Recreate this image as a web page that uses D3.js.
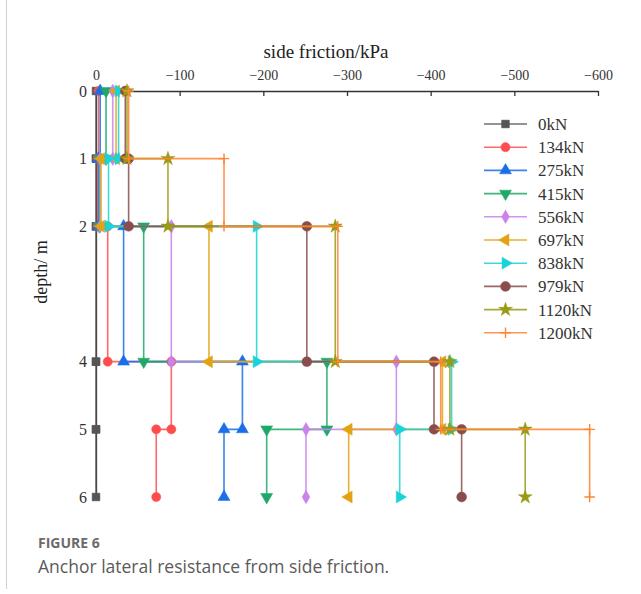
<!DOCTYPE html>
<html>
<head>
<meta charset="utf-8">
<script src="https://cdn.jsdelivr.net/npm/d3@7"></script>
<style>
  body { margin: 0; background: #fff; }
  svg { display: block; }
</style>
</head>
<body>
<div id="container"></div>
<script>
/* DATA */
const depths = [0, 1, 2, 4, 5, 6];           // layer boundaries, m
const loads = ["0kN", "134kN", "275kN", "415kN", "556kN", "697kN", "838kN", "979kN", "1120kN", "1200kN"];
// side friction per layer (0-1, 1-2, 2-4, 4-5, 5-6), kPa
const f0 = [0, 0, 0, 0, 0];
const f134 = [-3, -2, -14, -90, -72];
const f275 = [-5, -3, -33, -175, -153];
const f415 = [-12, -4, -57, -276, -204];
const f556 = [-20, -5, -90, -359, -251];
const f697 = [-24, -6, -135, -414, -302];
const f838 = [-27, -15, -192, -425, -363];
const f979 = [-35, -39, -252, -404, -437];
const f1120 = [-37, -86, -286, -423, -513];
const f1200 = [-39, -153, -289, -412, -590];
const xTicks = [0, -100, -200, -300, -400, -500, -600];
const yTicks = [0, 1, 2, 4, 5, 6];

const friction = [f0, f134, f275, f415, f556, f697, f838, f979, f1120, f1200];
const colors = ["#555555", "#ff4d4d", "#1a6fe8", "#1fa86a", "#c983ea", "#e3a214", "#18d4d8", "#8a4c4c", "#9a9a14", "#ff8533"];

/* CONSTANTS */
const width = 641, height = 594;

const svg = d3.select("#container").append("svg")
  .attr("width", width)
  .attr("height", height)

svg.append("rect").attr("width", width).attr("height", height).attr("fill", "#fff")
// frame edge on the left
svg.append("line").attr("x1", 6.5).attr("x2", 6.5).attr("y1", 0).attr("y2", 589)
  .attr("stroke", "#d0d0d0").attr("stroke-width", 1)

/* SCALES */
const xScale = d3.scaleLinear().domain([0, -600]).range([96, 598])
const yScale = d3.scaleLinear().domain([0, 6]).range([91, 497])

/* AXES */
const xAxis = svg.append("g")
  .attr("transform", `translate(0,${yScale(0)})`)
  .call(d3.axisTop(xScale).tickValues(xTicks).tickSizeInner(-5).tickSizeOuter(0).tickPadding(11))
xAxis.select(".domain").attr("stroke", "#333").attr("stroke-width", 1.3)
xAxis.selectAll(".tick line").attr("stroke", "#333").attr("stroke-width", 1.3)
xAxis.selectAll("text").attr("font-family", "Liberation Serif").attr("font-size", 14).attr("fill", "#333")

const yAxis = svg.append("g")
  .attr("transform", `translate(${xScale(0)},0)`)
  .call(d3.axisLeft(yScale).tickValues(yTicks).tickFormat(d3.format("d")).tickSizeInner(-4).tickSizeOuter(0).tickPadding(9))
yAxis.select(".domain").attr("stroke", "#333").attr("stroke-width", 1.3)
yAxis.selectAll(".tick line").attr("stroke", "#333").attr("stroke-width", 1.3)
yAxis.selectAll("text").attr("font-family", "Liberation Serif").attr("font-size", 16).attr("fill", "#333")

svg.append("text")
  .attr("x", 326).attr("y", 58)
  .attr("text-anchor", "middle")
  .attr("font-family", "Liberation Serif").attr("font-size", 19).attr("fill", "#222")
  .text("side friction/kPa")

svg.append("text")
  .attr("transform", "translate(47,272) rotate(-90)")
  .attr("text-anchor", "middle")
  .attr("font-family", "Liberation Serif").attr("font-size", 18).attr("fill", "#222")
  .text("depth/ m")

/* SYMBOLS */
const plus = {
  draw(ctx, size) {
    const r = Math.sqrt(size) / 2;
    ctx.moveTo(-r, 0); ctx.lineTo(r, 0);
    ctx.moveTo(0, -r); ctx.lineTo(0, r);
  }
}
const markers = [
  { type: d3.symbolSquare, size: 60, rot: 0 },
  { type: d3.symbolCircle, size: 66, rot: 0 },
  { type: d3.symbolTriangle, size: 62, rot: 0 },
  { type: d3.symbolTriangle, size: 62, rot: 180 },
  { type: d3.symbolDiamond, size: 52, rot: 0 },
  { type: d3.symbolTriangle, size: 62, rot: -90 },
  { type: d3.symbolTriangle, size: 62, rot: 90 },
  { type: d3.symbolCircle, size: 76, rot: 0 },
  { type: d3.symbolStar, size: 60, rot: 0 },
  { type: plus, size: 110, rot: 0, stroke: true }
]

/* SERIES */
const series = loads.map((name, i) => {
  const pts = [];
  friction[i].forEach((f, k) => {
    pts.push([f, depths[k]]);
    pts.push([f, depths[k + 1]]);
  });
  return { name, color: colors[i], marker: markers[i], pts };
})

const line = d3.line().x(d => xScale(d[0])).y(d => yScale(d[1]))

const drawMarker = (g, m, color, x, y) => {
  const sym = d3.symbol().type(m.type).size(m.size)
  g.append("path")
    .attr("d", sym())
    .attr("transform", `translate(${x},${y}) rotate(${m.rot})`)
    .attr("fill", m.stroke ? "none" : color)
    .attr("stroke", color)
    .attr("stroke-width", m.stroke ? 1.4 : 0.5)
}

series.forEach(s => {
  const g = svg.append("g")
  g.append("path")
    .attr("d", line(s.pts))
    .attr("fill", "none")
    .attr("stroke", s.color)
    .attr("stroke-opacity", 0.85)
    .attr("stroke-width", 1.6)
  s.pts.forEach(p => drawMarker(g, s.marker, s.color, xScale(p[0]), yScale(p[1])))
})

/* LEGEND */
const legend = svg.append("g").attr("transform", "translate(484,124)")
series.forEach((s, i) => {
  const row = legend.append("g").attr("transform", `translate(0,${i * 23.2})`)
  row.append("line").attr("x1", 0).attr("x2", 43).attr("y1", 0).attr("y2", 0)
    .attr("stroke", s.color).attr("stroke-opacity", 0.85).attr("stroke-width", 1.6)
  drawMarker(row, s.marker, s.color, 21.5, 0)
  row.append("text").attr("x", 54).attr("y", 0).attr("dy", "0.35em")
    .attr("font-family", "Liberation Serif").attr("font-size", 17).attr("fill", "#333")
    .text(s.name)
})

/* CAPTION */
svg.append("text")
  .attr("x", 38).attr("y", 548)
  .attr("font-family", "Open Sans").attr("font-weight", 700).attr("font-size", 14)
  .attr("fill", "#6b6b6b")
  .text("FIGURE 6")
svg.append("text")
  .attr("x", 38).attr("y", 573)
  .attr("font-family", "Open Sans").attr("font-size", 17.5)
  .attr("fill", "#5a5a5a")
  .text("Anchor lateral resistance from side friction.")
</script>
</body>
</html>
